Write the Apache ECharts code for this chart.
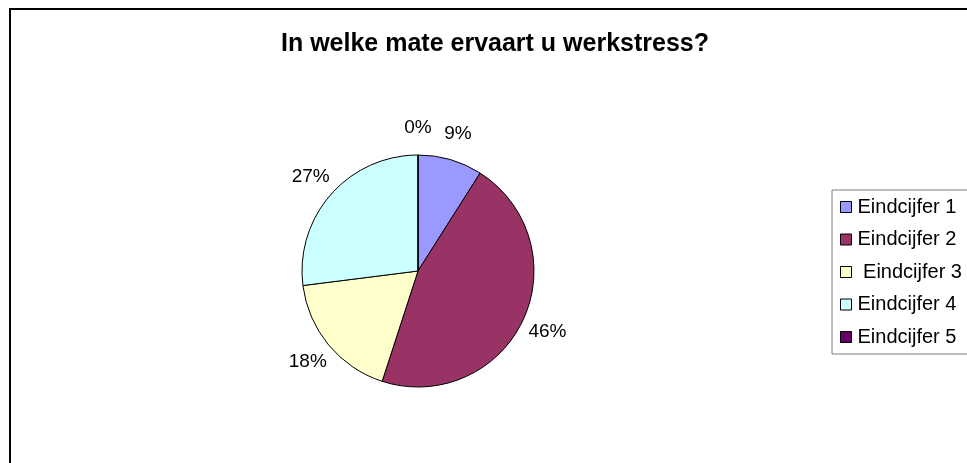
<!DOCTYPE html>
<html>
<head>
<meta charset="utf-8">
<script src="https://cdn.jsdelivr.net/npm/echarts@6/dist/echarts.min.js"></script>
<style>
  html, body { margin: 0; padding: 0; background: #ffffff; }
  #chart { width: 967px; height: 463px; }
</style>
</head>
<body>
<div id="chart"></div>
<script>
// Survey answers: share of respondents per final grade (percent)
const titleText = 'In welke mate ervaart u werkstress?';
const categories = ['Eindcijfer 1', 'Eindcijfer 2', ' Eindcijfer 3', 'Eindcijfer 4', 'Eindcijfer 5'];
const percentages = [9, 46, 18, 27, 0];
const sliceColors = ['#9999FF', '#993366', '#FFFFCC', '#CCFFFF', '#660066'];

const chart = echarts.init(document.getElementById('chart'), null, { renderer: 'canvas' });

const fontFamily = '"Liberation Sans", Arial, sans-serif';

chart.setOption({
  backgroundColor: '#ffffff',
  animation: false,
  title: {
    text: titleText,
    left: 490,
    top: 27,
    textAlign: 'center',
    textStyle: { fontFamily, fontSize: 25, fontWeight: 'bold', color: '#000000' }
  },
  legend: {
    orient: 'vertical',
    left: 832,
    top: 190,
    icon: 'rect',
    itemWidth: 11,
    itemHeight: 11,
    itemGap: 12.5,
    padding: [7, 60, 7, 8],
    borderColor: '#7f7f7f',
    borderWidth: 1,
    selectedMode: false,
    itemStyle: { borderColor: '#000000', borderWidth: 1 },
    textStyle: { fontFamily, fontSize: 20, color: '#000000', lineHeight: 20, padding: [0, 0, 0, 1] },
    data: categories
  },
  graphic: [{
    type: 'rect',
    silent: true,
    shape: { x: 10, y: 9, width: 1100, height: 700 },
    style: { fill: 'none', stroke: '#000000', lineWidth: 2 }
  }],
  series: [{
    type: 'pie',
    center: [418, 271],
    radius: 116,
    startAngle: 90,
    clockwise: true,
    avoidLabelOverlap: false,
    label: {
      show: true,
      position: 'outside',
      formatter: (p) => p.value + '%',
      fontFamily,
      fontSize: 19,
      color: '#000000'
    },
    labelLine: {
      show: true,
      length: 27,
      length2: 0,
      lineStyle: { opacity: 0, width: 0 }
    },
    labelLayout: (params) => {
      const pts = params.labelLinePoints;
      if (!pts) return {};
      return { x: pts[1][0], y: pts[1][1], align: 'center', verticalAlign: 'middle' };
    },
    emphasis: { disabled: true },
    itemStyle: { borderColor: '#000000', borderWidth: 1 },
    data: categories.map((name, i) => ({
      name,
      value: percentages[i],
      itemStyle: { color: sliceColors[i] }
    }))
  }]
});
</script>
</body>
</html>
